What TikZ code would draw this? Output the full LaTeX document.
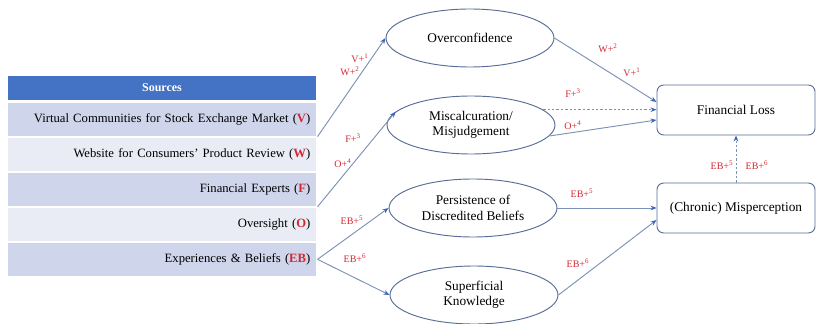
\documentclass[tikz,border=0pt]{standalone}
\usepackage{fontspec}
\setmainfont{Liberation Serif}
\usetikzlibrary{arrows.meta, positioning, shapes.geometric}
\definecolor{cHead}{RGB}{68,114,196}
\definecolor{cRowA}{RGB}{207,213,234}
\definecolor{cRowB}{RGB}{233,236,245}
\definecolor{cEdge}{RGB}{88,108,150}
\definecolor{cLine}{RGB}{125,145,182}
\definecolor{cTip}{RGB}{60,100,185}
\definecolor{cRed}{RGB}{214,40,50}
\newcommand{\srcid}[1]{(\textcolor{cRed}{\textbf{#1}})}
\newcommand{\tagtxt}[2]{#1+\textsuperscript{#2}}
\tikzset{
  %% source table rows
  srcrow/.style={rectangle, draw=white, line width=0.8pt, minimum width=232.5pt,
                 minimum height=25.5pt, text width=222.5pt, align=right,
                 inner xsep=5pt, inner ysep=0pt, font=\fontsize{9.5}{11}\selectfont},
  rowA/.style={srcrow, fill=cRowA},
  rowB/.style={srcrow, fill=cRowB},
  srchead/.style={srcrow, fill=cHead, minimum height=19.5pt, align=center,
                  text=white, font=\fontsize{9}{10}\selectfont\bfseries},
  %% mediating factors
  factor/.style={ellipse, draw=cEdge, line width=0.7pt, minimum width=126pt,
                 minimum height=43.5pt, align=center, inner sep=1pt,
                 font=\fontsize{10}{11.5}\selectfont},
  %% outcome boxes
  outcome/.style={rectangle, rounded corners=5pt, draw=cEdge, line width=0.7pt,
                  minimum width=118.5pt, minimum height=37.5pt,
                  font=\fontsize{10}{12}\selectfont},
  %% connectors
  link/.style={draw=cLine, line width=0.7pt,
               -{Stealth[length=4.5pt, width=3.5pt, color=cTip]}},
  linkD/.style={link, dash pattern=on 1.8pt off 1.5pt},
  %% red path tags
  tag/.style={text=cRed, inner sep=1pt, font=\fontsize{7.5}{8}\selectfont},
}

\begin{document}
\begin{tikzpicture}[x=0.75pt, y=-0.75pt]
\useasboundingbox (0,0) rectangle (817,324);

%% ----- Sources table -----
\node[srchead] (hdr) at (162,88) {Sources};
\node[rowA, below=0pt of hdr] (V)  {Virtual Communities for Stock Exchange Market \srcid{V}};
\node[rowB, below=0pt of V]   (W)  {Website for Consumers' Product Review \srcid{W}};
\node[rowA, below=0pt of W]   (F)  {Financial Experts \srcid{F}};
\node[rowB, below=0pt of F]   (O)  {Oversight \srcid{O}};
\node[rowA, below=0pt of O]   (EB) {Experiences \& Beliefs \srcid{EB}};

%% ----- Factors -----
\node[factor] (over) at (470,38)  {Overconfidence};
\node[factor] (mis)  at (471,125) {Miscalcuration/\\Misjudgement};
\node[factor] (per)  at (473,208) {Persistence of\\Discredited Beliefs};
\node[factor] (sup)  at (474,295) {Superficial\\Knowledge};

%% ----- Outcomes -----
\node[outcome] (fl)   at (736,110) {Financial Loss};
\node[outcome] (misp) at (736,208) {(Chronic) Misperception};

%% ----- Sources -> factors -----
\draw[link] (V.south east) -- (over.west);
\draw[link] (F.south east) -- (mis.170);
\draw[link] (EB.east) -- (per.west);
\draw[link] (EB.east) -- (sup.west);

%% ----- Factors -> outcomes -----
\draw[link]  (over.east) -- ([yshift=6pt]fl.west);
\draw[linkD] (mis.12) -- (mis.12 -| fl.west);
\draw[link]  (mis.-8) -- ([yshift=-7.5pt]fl.west);
\draw[link]  (per.east) -- (misp.west);
\draw[link]  (sup.east) -- ([yshift=-9pt]misp.west);
\draw[linkD] (misp.north) -- (fl.south);

%% ----- Path tags -----
\node[tag] (tV1)  at (360,58)  {\tagtxt{V}{1}};
\node[tag] (tW2)  at (350,71)  {\tagtxt{W}{2}};
\node[tag] (tF3)  at (353,138) {\tagtxt{F}{3}};
\node[tag] (tO4)  at (343,163) {\tagtxt{O}{4}};
\node[tag] (tE5)  at (352,220) {\tagtxt{EB}{5}};
\node[tag] (tE6)  at (355,258) {\tagtxt{EB}{6}};
\node[tag] (rW2)  at (608,48)  {\tagtxt{W}{2}};
\node[tag] (rV1)  at (632,72)  {\tagtxt{V}{1}};
\node[tag] (rF3)  at (573,93)  {\tagtxt{F}{3}};
\node[tag] (rO4)  at (573,125) {\tagtxt{O}{4}};
\node[tag] (rE5)  at (582,193) {\tagtxt{EB}{5}};
\node[tag] (rE6)  at (578,263) {\tagtxt{EB}{6}};
\node[tag] (uE5)  at (722,165) {\tagtxt{EB}{5}};
\node[tag] (uE6)  at (757,165) {\tagtxt{EB}{6}};

\end{tikzpicture}
\end{document}
